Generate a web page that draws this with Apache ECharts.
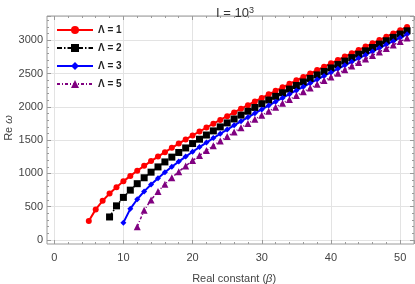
<!DOCTYPE html>
<html><head><meta charset="utf-8">
<script src="https://cdn.jsdelivr.net/npm/echarts@6/dist/echarts.min.js"></script>
<style>html,body{margin:0;padding:0;background:#fff}#c{width:415px;height:284px}</style>
</head><body><div id="c"></div>
<script>
// β values (x) for each curve
const betaL1 = [5,6,7,8,9,10,11,12,13,14,15,16,17,18,19,20,21,22,23,24,25,26,27,28,29,30,31,32,33,34,35,36,37,38,39,40,41,42,43,44,45,46,47,48,49,50,51];
const betaL2 = [8,9,10,11,12,13,14,15,16,17,18,19,20,21,22,23,24,25,26,27,28,29,30,31,32,33,34,35,36,37,38,39,40,41,42,43,44,45,46,47,48,49,50,51];
const betaL3 = [10,11,12,13,14,15,16,17,18,19,20,21,22,23,24,25,26,27,28,29,30,31,32,33,34,35,36,37,38,39,40,41,42,43,44,45,46,47,48,49,50,51];
const betaL5 = [12,13,14,15,16,17,18,19,20,21,22,23,24,25,26,27,28,29,30,31,32,33,34,35,36,37,38,39,40,41,42,43,44,45,46,47,48,49,50,51];
// Re ω values
const omegaL1 = [285,460,589,697,793,881,963,1040,1114,1185,1253,1320,1385,1448,1510,1570,1630,1689,1747,1804,1860,1916,1972,2026,2081,2134,2188,2241,2294,2346,2398,2450,2501,2553,2604,2654,2705,2755,2806,2856,2905,2955,3004,3054,3103,3152,3201];
const omegaL2 = [346,513,640,749,846,935,1019,1098,1173,1245,1315,1383,1449,1514,1577,1639,1699,1759,1818,1876,1934,1991,2047,2103,2158,2212,2267,2321,2374,2427,2480,2532,2585,2636,2688,2740,2791,2842,2892,2943,2993,3044,3094,3143];
const omegaL3 = [261,468,612,730,834,929,1017,1100,1178,1253,1326,1396,1464,1531,1596,1659,1722,1783,1843,1903,1962,2020,2077,2134,2190,2246,2301,2356,2410,2464,2518,2571,2624,2676,2729,2781,2833,2884,2936,2987,3038,3089];
const omegaL5 = [200,446,602,727,837,935,1027,1112,1193,1271,1345,1417,1487,1555,1622,1687,1750,1813,1875,1935,1995,2054,2112,2170,2227,2284,2340,2395,2450,2505,2559,2613,2667,2720,2773,2826,2878,2930,2982,3034];
const seriesNames = ['Λ = 1','Λ = 2','Λ = 3','Λ = 5'];
const xTickStep = 10;
const yTickStep = 500;

const zip = (xs, ys) => xs.map((x, i) => [x, ys[i]]);
const FONT = 'Liberation Sans, Arial, sans-serif';
const FRAME = '#9a9a9a';
const GRIDC = '#e3e3e3';
const XMIN = 0, XMAX = 52, YMIN = 0, YMAX = 3365;
const PLOT_W = 367, PLOT_H = 228;
const XOFF = 4, YOFF = 7.2;

function xAx(kind) {
  const gridTicks = kind === 'grid';
  const bottomMain = kind === 'bottom';
  return {
    gridIndex: 1, type: 'value', min: XMIN, max: XMAX, interval: xTickStep,
    position: kind === 'top' ? 'top' : 'bottom', offset: kind === 'top' ? 0 : XOFF,
    z: gridTicks ? 0 : 3,
    axisLine: { show: false, onZero: false },
    axisTick: { show: true, inside: true, length: gridTicks ? PLOT_H : 4, lineStyle: { color: gridTicks ? GRIDC : FRAME } },
    minorTick: { show: !gridTicks, splitNumber: 5, length: 2, lineStyle: { color: FRAME } },
    axisLabel: { show: bottomMain, color: '#444', fontSize: 11, fontFamily: FONT, margin: 8,
      formatter: v => (v % xTickStep === 0 ? String(v) : '') },
    splitLine: { show: false },
    name: bottomMain ? 'Real constant ({i|β})' : '',
    nameLocation: 'middle', nameGap: 29, nameMoveOverlap: false,
    nameTextStyle: { color: '#444', fontSize: 11, fontFamily: FONT, rich: { i: { fontStyle: 'italic', fontSize: 11, fontFamily: FONT, color: '#444' } } }
  };
}
function yAx(kind) {
  const gridTicks = kind === 'grid';
  const leftMain = kind === 'left';
  return {
    gridIndex: 1, type: 'value', min: YMIN, max: YMAX, interval: yTickStep,
    position: kind === 'right' ? 'right' : 'left', offset: kind === 'right' ? 0 : YOFF,
    z: gridTicks ? 0 : 3,
    axisLine: { show: false, onZero: false },
    axisTick: { show: true, inside: true, length: gridTicks ? PLOT_W : 4, lineStyle: { color: gridTicks ? GRIDC : FRAME } },
    minorTick: { show: !gridTicks, splitNumber: 5, length: 2, lineStyle: { color: FRAME } },
    axisLabel: { show: leftMain, color: '#444', fontSize: 11, fontFamily: FONT, margin: 4,
      formatter: v => (v % yTickStep === 0 ? String(v) : '') },
    splitLine: { show: false },
    name: leftMain ? 'Re {i|ω}' : '',
    nameLocation: 'middle', nameGap: 33, nameRotate: 90, nameMoveOverlap: false,
    nameTextStyle: { color: '#444', fontSize: 11, fontFamily: FONT, rich: { i: { fontStyle: 'italic', fontSize: 11, fontFamily: FONT, color: '#444' } } }
  };
}

const chart = echarts.init(document.getElementById('c'), null, { renderer: 'canvas' });
chart.setOption({
  animation: false,
  backgroundColor: '#fff',
  title: {
    text: 'I = 10{s|3}', left: 230, top: 1, textAlign: 'center',
    textStyle: { color: '#333', fontSize: 13, fontWeight: 'normal', fontFamily: FONT,
      rich: { s: { fontSize: 9, verticalAlign: 'top', fontFamily: FONT, color: '#333', padding: [0, 0, 6, 0] } } }
  },
  grid: [
    { left: 47, right: 1, top: 16, bottom: 40, containLabel: false, outerBoundsMode: 'none',
      show: true, borderColor: FRAME, borderWidth: 1, backgroundColor: 'transparent', z: 4 },
    { left: 47 + YOFF, right: 1, top: 16, bottom: 40 + XOFF, containLabel: false, outerBoundsMode: 'none' }
  ],
  legend: {
    orient: 'vertical', left: 56, top: 25, padding: 0, itemWidth: 36, itemHeight: 10, itemGap: 8,
    data: seriesNames, z: 10,
    textStyle: { color: '#222', fontSize: 10, fontWeight: 'bold', fontFamily: FONT }
  },
  xAxis: [
    { gridIndex: 0, type: 'value', min: 0, max: 1, show: false },
    xAx('grid'), xAx('bottom'), xAx('top')
  ],
  yAxis: [
    { gridIndex: 0, type: 'value', min: 0, max: 1, show: false },
    yAx('grid'), yAx('left'), yAx('right')
  ],
  series: [
    { name: seriesNames[0], type: 'line', xAxisIndex: 2, yAxisIndex: 2, data: zip(betaL1, omegaL1), symbol: 'circle', symbolSize: 6,
      itemStyle: { color: '#ff0000' }, lineStyle: { color: '#ff0000', width: 2 } },
    { name: seriesNames[1], type: 'line', xAxisIndex: 2, yAxisIndex: 2, data: zip(betaL2, omegaL2), symbol: 'rect', symbolSize: 7,
      itemStyle: { color: '#000000' }, lineStyle: { color: '#000000', width: 1.5, type: [5, 2, 1.5, 2] } },
    { name: seriesNames[2], type: 'line', xAxisIndex: 2, yAxisIndex: 2, data: zip(betaL3, omegaL3), symbol: 'diamond', symbolSize: 6,
      itemStyle: { color: '#0000ff' }, lineStyle: { color: '#0000ff', width: 2 } },
    { name: seriesNames[3], type: 'line', xAxisIndex: 2, yAxisIndex: 2, data: zip(betaL5, omegaL5), symbol: 'triangle', symbolSize: 7,
      itemStyle: { color: '#800080' }, lineStyle: { color: '#800080', width: 1.5, type: [3, 2, 1, 2] } }
  ]
});
</script></body></html>
